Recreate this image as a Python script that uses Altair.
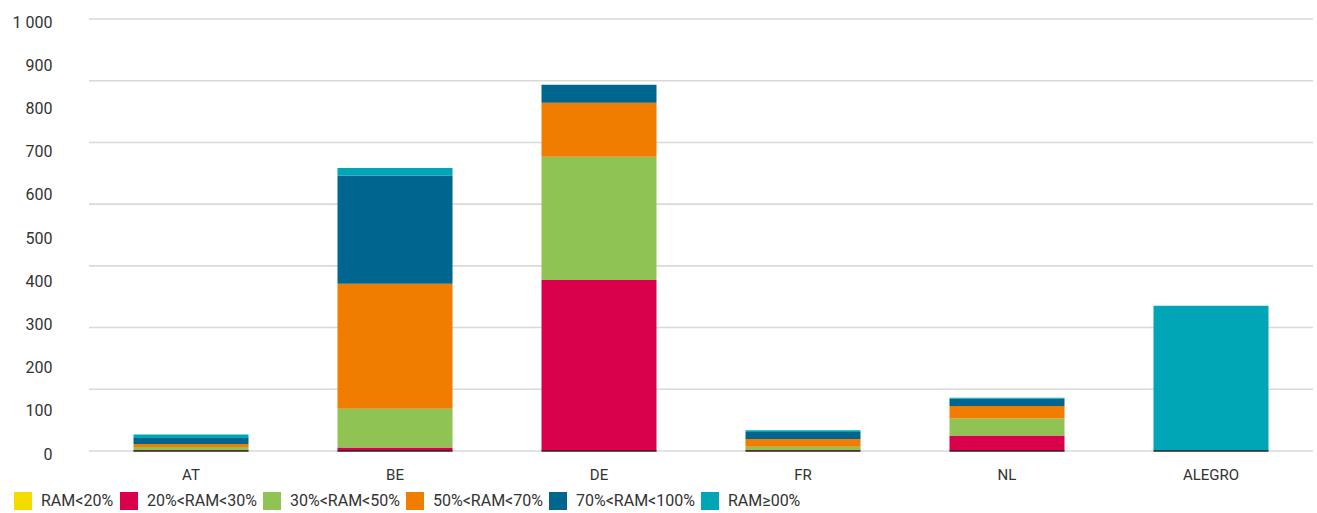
import altair as alt
import pandas as pd

# Border points / interconnector
categories = ["AT", "BE", "DE", "FR", "NL", "ALEGRO"]

# Hours per RAM band (stacked from bottom to top)
series_names = [
    "RAM<20%",
    "20%<RAM<30%",
    "30%<RAM<50%",
    "50%<RAM<70%",
    "70%<RAM<100%",
    "RAM≥00%",
]
ram_lt20 = [0, 0, 0, 0, 0, 0]
ram_20_30 = [2, 8, 396, 2, 36, 0]
ram_30_50 = [7, 90, 285, 8, 39, 0]
ram_50_70 = [7, 289, 125, 18, 29, 0]
ram_70_100 = [14, 250, 42, 16, 17, 0]
ram_ge = [8, 18, 0, 4, 2, 336]

series_colors = ["#F5DC00", "#D9004C", "#8FC353", "#F07D00", "#00658F", "#00A6B6"]

y_ticks = [0, 100, 200, 300, 400, 500, 600, 700, 800, 900, 1000]
grid_values = [0, 142.86, 285.71, 428.57, 571.43, 714.29, 857.14, 1000]

rows = []
for idx, (name, vals) in enumerate(
    zip(series_names, [ram_lt20, ram_20_30, ram_30_50, ram_50_70, ram_70_100, ram_ge])
):
    for cat, v in zip(categories, vals):
        rows.append({"border": cat, "band": name, "order": idx, "hours": v})
df = pd.DataFrame(rows)

FONT = "Roboto"
TEXT = "#333333"

x_axis = alt.Axis(
    labelAngle=0,
    ticks=False,
    domain=False,
    grid=False,
    labelPadding=16,
    labelFontSize=15,
    labelFont=FONT,
    labelColor=TEXT,
)
x_scale = alt.Scale(paddingInner=0.436, paddingOuter=0.218)

y_axis = alt.Axis(
    values=y_ticks,
    grid=False,
    ticks=False,
    domain=False,
    labelPadding=37,
    labelOffset=3,
    labelFontSize=16,
    labelFont=FONT,
    labelColor=TEXT,
    labelExpr="replace(datum.label, ',', ' ')",
)
y_scale = alt.Scale(domain=[0, 1000], nice=False)

grid = (
    alt.Chart(pd.DataFrame({"g": grid_values}))
    .mark_rule(color="#d9d9d9", strokeWidth=1.6)
    .encode(y=alt.Y("g:Q", scale=y_scale, axis=y_axis, title=None))
)

bars = (
    alt.Chart(df)
    .mark_bar(size=115)
    .encode(
        x=alt.X("border:N", sort=categories, title=None, scale=x_scale, axis=x_axis),
        y=alt.Y("sum(hours):Q", stack="zero", scale=y_scale, axis=y_axis, title=None),
        color=alt.Color(
            "band:N",
            sort=series_names,
            scale=alt.Scale(domain=series_names, range=series_colors),
            legend=alt.Legend(
                title=None,
                orient="none",
                direction="horizontal",
                legendX=-75,
                legendY=473,
                symbolType="square",
                symbolSize=324,
                symbolStrokeWidth=0,
                symbolOpacity=1,
                labelFontSize=16,
                labelFont=FONT,
                labelColor=TEXT,
                labelOffset=9,
                columnPadding=6,
            ),
        ),
        order=alt.Order("order:Q", sort="ascending"),
    )
)

baseline = (
    alt.Chart(pd.DataFrame({"border": categories, "zero": [0] * len(categories)}))
    .mark_tick(color="#2b1a20", thickness=2, size=115)
    .encode(
        x=alt.X("border:N", sort=categories, title=None, scale=x_scale, axis=x_axis),
        y=alt.Y("zero:Q", scale=y_scale, axis=y_axis, title=None),
    )
)

chart = (
    alt.layer(grid, bars, baseline)
    .properties(
        width=1224,
        height=432,
        background="white",
        autosize=alt.AutoSizeParams(type="none"),
        padding={"left": 89, "top": 19, "right": 4, "bottom": 62},
    )
    .configure_view(stroke="transparent", strokeWidth=0)
)

chart.save("out.html", embed_options={"renderer": "svg", "actions": False})
